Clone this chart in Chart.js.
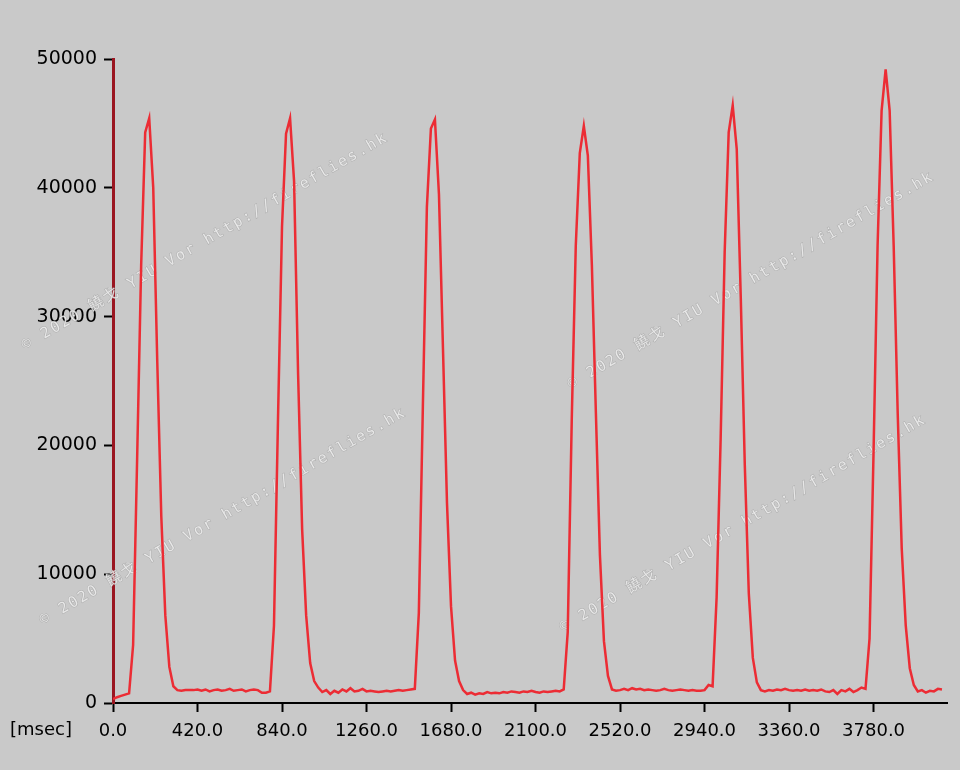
<!DOCTYPE html>
<html>
<head>
<meta charset="utf-8">
<script src="https://cdn.jsdelivr.net/npm/chart.js@4.4.0/dist/chart.umd.min.js"></script>
<style>
  html, body { margin: 0; padding: 0; background: #c9c9c9; }
  canvas { display: block; }
</style>
</head>
<body>
<canvas id="pulse" width="960" height="770"></canvas>
<script>
// one sample every 20 ms, starting at 0 ms
const SAMPLE_MS = 20;
const signal = [
  300, 450, 550, 650, 750, 4500, 19000, 34000, 44300, 45400,
  40000, 26500, 14500, 6800, 2800, 1300, 1000, 950, 1000, 1000,
  1000, 1050, 950, 1050, 900, 1000, 1050, 950, 1000, 1100,
  950, 1000, 1050, 900, 1000, 1050, 1000, 800, 800, 900,
  6000, 22000, 37000, 44200, 45400, 40500, 25500, 13500, 6800, 3100,
  1700, 1200, 850, 1000, 700, 950, 800, 1050, 900, 1150,
  900, 950, 1100, 900, 950, 900, 850, 900, 950, 900,
  950, 1000, 950, 1000, 1050, 1100, 7000, 23000, 38500, 44600,
  45300, 39500, 27500, 15500, 7500, 3300, 1700, 1000, 700, 800,
  650, 750, 700, 850, 750, 800, 750, 850, 800, 900,
  850, 800, 900, 850, 950, 850, 800, 900, 850, 900,
  950, 900, 1050, 5500, 22000, 35500, 42700, 44800, 42500, 34000,
  22500, 11500, 4800, 2100, 1050, 950, 1000, 1100, 1000, 1150,
  1050, 1100, 1000, 1050, 1000, 950, 1000, 1100, 1000, 950,
  1000, 1050, 1000, 950, 1000, 950, 950, 1000, 1400, 1300,
  8200, 20500, 35000, 44300, 46400, 43000, 31500, 18500, 8500, 3500,
  1600, 1000, 900, 1000, 950, 1050, 1000, 1100, 1000, 950,
  1000, 950, 1050, 950, 1000, 950, 1050, 900, 850, 1000,
  700, 1000, 900, 1100, 850, 1000, 1200, 1100, 5000, 19500,
  35500, 46000, 49200, 46000, 35500, 22500, 12000, 6000, 2700, 1400,
  900, 1000, 800, 950, 900, 1100, 1050
];

const xTickValues = [0, 420, 840, 1260, 1680, 2100, 2520, 2940, 3360, 3780];
const xMaxMs = 4145;
const yTickValues = [0, 10000, 20000, 30000, 40000, 50000];
const xUnitLabel = "[msec]";
const watermark = "© 2020 饒戈 YIU Vor http://fireflies.hk";
const watermarkSpots = [[25, 350], [43, 625], [571, 389], [563, 632]];

const fontFamily = "'DejaVu Sans', sans-serif";

const points = signal.map((v, i) => ({ x: i * SAMPLE_MS, y: v }));

const extras = {
  id: "extras",
  beforeDatasetsDraw(chart) {
    const ctx = chart.ctx;
    ctx.save();
    ctx.font = "15px 'DejaVu Sans Mono', 'Noto Sans CJK TC', monospace";
    ctx.letterSpacing = "2px";
    ctx.textBaseline = "alphabetic";
    ctx.lineWidth = 1;
    watermarkSpots.forEach(([x, y]) => {
      ctx.save();
      ctx.translate(x, y);
      ctx.rotate(-30 * Math.PI / 180);
      ctx.strokeStyle = "rgba(150,150,150,0.55)";
      ctx.strokeText(watermark, 0, 0);
      ctx.fillStyle = "rgba(240,240,240,0.85)";
      ctx.fillText(watermark, 0, 0);
      ctx.restore();
    });
    ctx.restore();
  },
  afterDraw(chart) {
    const ctx = chart.ctx;
    const x = chart.scales.x;
    ctx.save();
    ctx.font = "18px " + fontFamily;
    ctx.fillStyle = "#000";
    ctx.textBaseline = "top";
    ctx.textAlign = "left";
    ctx.fillText(xUnitLabel, 10, x.top + 9 + 9);
    ctx.restore();
  }
};

new Chart(document.getElementById("pulse"), {
  type: "line",
  data: {
    datasets: [{
      data: points,
      borderColor: "rgb(236,44,52)",
      borderWidth: 2.5,
      pointRadius: 0,
      tension: 0,
      fill: false
    }]
  },
  options: {
    responsive: false,
    animation: false,
    layout: { padding: { top: 59, right: 13, left: 0, bottom: 0 } },
    plugins: { legend: { display: false }, tooltip: { enabled: false } },
    scales: {
      x: {
        type: "linear",
        min: 0,
        max: xMaxMs,
        afterFit: s => { s.height = 67; },
        afterBuildTicks: s => { s.ticks = xTickValues.map(v => ({ value: v })); },
        border: { color: "#000", width: 2 },
        grid: { drawOnChartArea: false, tickLength: 9, tickColor: "#000", tickWidth: 2 },
        ticks: {
          autoSkip: false,
          maxRotation: 0,
          padding: 9,
          color: "#000",
          font: { family: fontFamily, size: 18 },
          callback: v => v.toFixed(1)
        }
      },
      y: {
        min: 0,
        max: 50000,
        afterFit: s => { s.width = 113; },
        afterBuildTicks: s => { s.ticks = yTickValues.map(v => ({ value: v })); },
        border: { color: "#9a1520", width: 3 },
        grid: { drawOnChartArea: false, tickLength: 9, tickColor: "#000", tickWidth: 2 },
        ticks: {
          padding: 7,
          color: "#000",
          font: { family: fontFamily, size: 19 },
          callback: v => String(v)
        }
      }
    }
  },
  plugins: [extras]
});
</script>
</body>
</html>
